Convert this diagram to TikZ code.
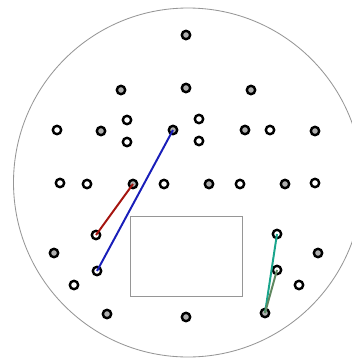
\documentclass[tikz,border=0pt]{standalone}
\usepackage{tikz}
\usepackage{xcolor}
\usetikzlibrary{positioning}
\definecolor{pegfill}{RGB}{175,175,175}
\definecolor{boardgray}{RGB}{150,150,150}
\definecolor{bandred}{RGB}{165,20,15}
\definecolor{bandblue}{RGB}{25,30,185}
\definecolor{bandteal}{RGB}{25,165,140}
\definecolor{bandgreen}{RGB}{95,135,95}

\begin{document}
\begin{tikzpicture}[x=0.025cm, y=-0.025cm,
    peg/.style={circle, draw=black, line width=1.7pt, minimum size=0.21cm, inner sep=0pt},
    band/.style={line width=1.4pt}]
\useasboundingbox (0,0) rectangle (352,358);
\draw[boardgray, line width=0.6pt] (188,182.5) circle (174.5);
\node[draw=boardgray, line width=0.6pt, minimum width=2.8cm, minimum height=2cm, inner sep=0pt] (window) at (186,256) {};
% grey pegs
\foreach \name/\x/\y in {g1/186/35, g2/121/90, g3/186/88, g4/251/90, g5/101/131, g6/173/130, g7/245/130, g8/315/131, g9/133/184, g10/209/184, g11/285/184, g12/54/253, g13/318/253, g14/107/314, g15/186/317, g16/265/313} {
    \node[peg, fill=pegfill] (\name) at (\x,\y) {};
}
% white pegs
\foreach \name/\x/\y in {w1/127/120, w2/199/119, w3/57/130, w4/270/130, w5/127/142, w6/199/141, w7/60/183, w8/87/184, w9/164/184, w10/240/184, w11/315/183, w12/96/235, w13/277/234, w14/97/271, w15/277/270, w16/74/285, w17/299/285} {
    \node[peg, fill=white] (\name) at (\x,\y) {};
}
% bands
\draw[band, bandred] (g9.center) -- (w12.center);
\draw[band, bandblue] (g6.center) -- (w14.center);
\draw[band, bandteal] (w13.center) -- (g16.center);
\draw[band, bandgreen] (w15.center) -- (g16.center);
\end{tikzpicture}
\end{document}
